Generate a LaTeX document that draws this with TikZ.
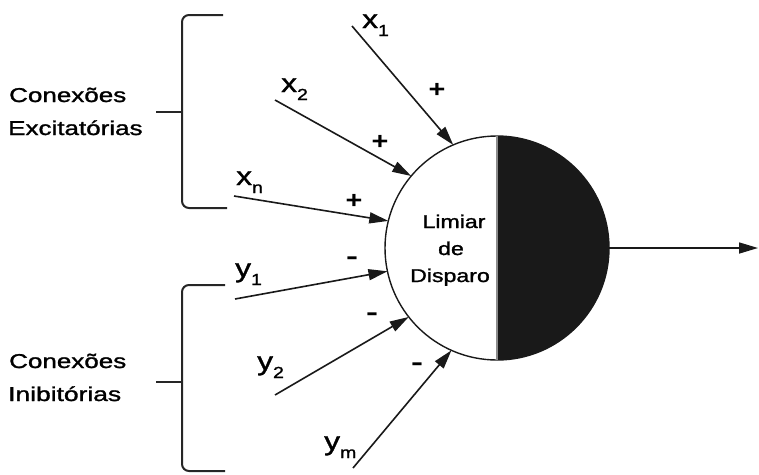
\documentclass[tikz,border=0pt]{standalone}
\usepackage{fontspec}
\setmainfont{Liberation Sans}
\newfontfamily\heavy[FakeBold=1.2]{Liberation Sans}
\usepackage{graphicx}
\usetikzlibrary{arrows.meta}
\newcommand\wtext[3]{\scalebox{#1}[1]{\fontsize{#2}{#2}\heavy #3}}
\newcommand\sgn[2]{\scalebox{#1}[1]{\fontsize{24}{24}\normalfont\bfseries #2}}
\newcommand\sublab[2]{\scalebox{1.22}[1]{\fontsize{26}{26}\heavy #1\raisebox{-8pt}{\fontsize{16}{16}\heavy #2}}}
\begin{document}
\begin{tikzpicture}[x=1pt,y=-1pt,
  conn/.style={line width=1.6pt, draw=black!90, -{Triangle[length=19pt,width=11pt]}},
  brk/.style={line width=2pt, draw=black!85, rounded corners=7pt},
  sign/.style={inner sep=0pt},
  lbl/.style={inner sep=0pt, anchor=base west},
  side/.style={inner sep=0pt, anchor=base west},
  mid/.style={inner sep=0pt, anchor=base}]
\useasboundingbox (0,0) rectangle (759,474);

% neuron
\node[circle, draw=black!90, line width=1.4pt, minimum size=224pt, inner sep=0pt, outer sep=0pt] (neuron) at (497,248) {};
\fill[black!90] (neuron.north) arc[start angle=-90, end angle=90, radius=112] -- cycle;
\draw[black!45, line width=1.2pt] (neuron.north) -- (neuron.south);
\node[mid] (t1) at (454,228) {\wtext{1.25}{18.5}{Limiar}};
\node[mid] (t2) at (451,255) {\wtext{1.25}{18.5}{de}};
\node[mid] (t3) at (450,282) {\wtext{1.25}{18.5}{Disparo}};

% input start points
\coordinate (x1s) at (352,26);
\coordinate (x2s) at (275,100);
\coordinate (xns) at (234,196);
\coordinate (y1s) at (235,299);
\coordinate (y2s) at (275,395);
\coordinate (yms) at (353,468);
\coordinate (out) at (758,248);

\draw[conn] (x1s) -- (neuron.113.6);
\draw[conn] (x2s) -- (neuron.140.8);
\draw[conn] (xns) -- (neuron.166.7);
\draw[conn] (y1s) -- (neuron.192.3);
\draw[conn] (y2s) -- (neuron.218.8);
\draw[conn] (yms) -- (neuron.246.2);
\draw[conn] (neuron.east) -- (out);

% input labels
\node[lbl] (lx1) at (362,28) {\sublab{x}{1}};
\node[lbl] (lx2) at (281,92) {\sublab{x}{2}};
\node[lbl] (lxn) at (236,185) {\sublab{x}{n}};
\node[lbl] (ly1) at (235,277) {\sublab{y}{1}};
\node[lbl] (ly2) at (257,370) {\sublab{y}{2}};
\node[lbl] (lym) at (324,450) {\sublab{y}{m}};

% signs
\node[sign] (px1) at (437,90) {\sgn{1.2}{+}};
\node[sign] (px2) at (380,142) {\sgn{1.2}{+}};
\node[sign] (pxn) at (354,201) {\sgn{1.2}{+}};
\node[sign] (my1) at (352,261) {\sgn{1.5}{-}};
\node[sign] (my2) at (372,317) {\sgn{1.5}{-}};
\node[sign] (mym) at (417,367) {\sgn{1.5}{-}};

% brackets
\coordinate (eTop) at (223,15);
\coordinate (eBot) at (227,208);
\coordinate (eTick) at (156,112);
\coordinate (iTop) at (225,285);
\coordinate (iBot) at (225,471);
\coordinate (iTick) at (156,382);
\draw[brk] (eTop) -- ++(-41,0) -- ++(0,193) -- (eBot);
\draw[brk] (eTick) -- ++(26,0);
\draw[brk] (iTop) -- ++(-43,0) -- ++(0,186) -- (iBot);
\draw[brk] (iTick) -- ++(26,0);

% group labels
\node[side] (c1a) at (9,102) {\wtext{1.3}{20}{Conexões}};
\node[side] (c1b) at (8,135) {\wtext{1.3}{20}{Excitatórias}};
\node[side] (c2a) at (9,368) {\wtext{1.3}{20}{Conexões}};
\node[side] (c2b) at (8,401) {\wtext{1.32}{20}{Inibitórias}};
\end{tikzpicture}
\end{document}
